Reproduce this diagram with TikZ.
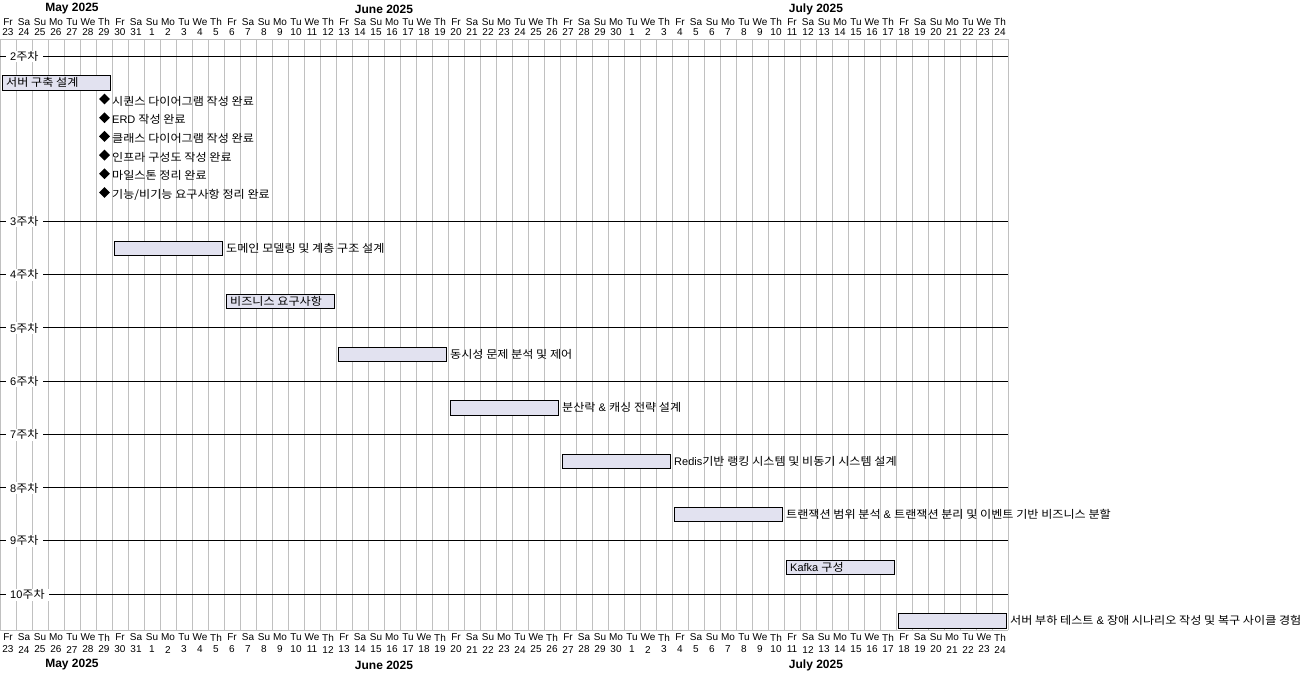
\documentclass[tikz,border=0pt]{standalone}
\usepackage{fontspec}
\setmainfont{Liberation Sans}
\newfontfamily\kr[FakeStretch=1.1]{Noto Sans CJK KR}
\definecolor{barfill}{HTML}{E2E2F0}
\definecolor{gridgray}{HTML}{C0C0C0}
\usetikzlibrary{shapes.geometric}
\tikzset{
  dayname/.style={font=\fontsize{10}{10}\selectfont, inner sep=0pt, anchor=center},
  monthlbl/.style={font=\bfseries\fontsize{12}{12}\selectfont, inner sep=0pt, anchor=center},
  taskbar/.style={draw=black, fill=barfill, line width=0.8pt},
  tasklbl/.style={font=\fontsize{11}{11}\selectfont, inner sep=0pt, anchor=west},
  seplbl/.style={font=\fontsize{11}{11}\selectfont, fill=white, inner xsep=4pt, inner ysep=1pt, anchor=west},
  sepline/.style={draw=black, line width=0.8pt},
  mstone/.style={fill=black, draw=none, diamond, minimum width=11pt, minimum height=11pt, inner sep=0pt},
}
\begin{document}
\begin{tikzpicture}[x=1pt, y=-1pt]
\useasboundingbox[fill=white] (0,0) rectangle (1301,672);
% grid
\foreach \k in {0,...,63} {
  \draw[gridgray, line width=0.8pt] (16*\k,39) -- (16*\k,630);
}
\draw[gridgray, line width=0.8pt] (0,39) -- (1008,39);
\draw[gridgray, line width=0.8pt] (0,630) -- (1008,630);
% day labels
\foreach \i in {0,...,62} {
  \pgfmathsetmacro{\wdname}{{"Fr","Sa","Su","Mo","Tu","We","Th"}[mod(\i,7)]}
  \pgfmathtruncatemacro{\dnum}{\i<9 ? 23+\i : (\i<39 ? \i-8 : \i-38)}
  \node[dayname] (wt\i) at (16*\i+8,22) {\wdname};
  \node[dayname] (nt\i) at (16*\i+8,32.5) {\dnum};
  \node[dayname] (wb\i) at (16*\i+8,637.5) {\wdname};
  \node[dayname] (nb\i) at (16*\i+8,649.5) {\dnum};
}
% months
\node[monthlbl] (mayt) at (72,9) {May 2025};
\node[monthlbl] (junt) at (384,9) {June 2025};
\node[monthlbl] (jult) at (816,9) {July 2025};
\node[monthlbl] (mayb) at (72,665) {May 2025};
\node[monthlbl] (junb) at (384,665) {June 2025};
\node[monthlbl] (julb) at (816,665) {July 2025};
% separators
\foreach \y/\w [count=\c] in {56/2,221/3,274.3/4,327.7/5,381/6,434.3/7,487.7/8,540.3/9,594.3/10} {
  \draw[sepline] (0,\y) -- (1008,\y);
  \node[seplbl] (sep\c) at (6,\y+0.5) {\w{\kr 주차}};
}
% tasks
\draw[taskbar] (2,75) rectangle (110,90);
\node[tasklbl] (t1) at (6,82.5) {\kr 서버 구축 설계};
% milestones
\foreach \yy/\txt [count=\c] in {99/{\kr 시퀀스 다이어그램 작성 완료},117.7/{ERD {\kr 작성 완료}},136.4/{\kr 클래스 다이어그램 작성 완료},155.1/{\kr 인프라 구성도 작성 완료},173.8/{\kr 마일스톤 정리 완료},192.5/{\kr 기능/비기능 요구사항 정리 완료}} {
  \node[mstone] (m\c) at (104.5,\yy) {};
  \node[tasklbl] (ml\c) at (112,\yy+2) {\txt};
}
\draw[taskbar] (114,241) rectangle (222,255);
\node[tasklbl] (t2) at (226,248) {\kr 도메인 모델링 및 계층 구조 설계};
\draw[taskbar] (226,294) rectangle (334,308.5);
\node[tasklbl] (t3) at (230,301.3) {\kr 비즈니스 요구사항};
\draw[taskbar] (338,347) rectangle (446,361.5);
\node[tasklbl] (t4) at (450,354.3) {\kr 동시성 문제 분석 및 제어};
\draw[taskbar] (450,400.5) rectangle (558,415);
\node[tasklbl] (t5) at (562,407.8) {{\kr 분산락} \& {\kr 캐싱 전략 설계}};
\draw[taskbar] (562,454) rectangle (670,468.5);
\node[tasklbl] (t6) at (674,461.3) {Redis{\kr 기반 랭킹 시스템 및 비동기 시스템 설계}};
\draw[taskbar] (674,507) rectangle (782,521.5);
\node[tasklbl] (t7) at (786,514.3) {{\kr 트랜잭션 범위 분석} \& {\kr 트랜잭션 분리 및 이벤트 기반 비즈니스 분할}};
\draw[taskbar] (786,560) rectangle (894,574.5);
\node[tasklbl] (t8) at (790,567.3) {Kafka {\kr 구성}};
\draw[taskbar] (898,613.5) rectangle (1006,628);
\node[tasklbl] (t9) at (1010,620.8) {{\kr 서버 부하 테스트} \& {\kr 장애 시나리오 작성 및 복구 사이클 경험}};
\end{tikzpicture}
\end{document}
